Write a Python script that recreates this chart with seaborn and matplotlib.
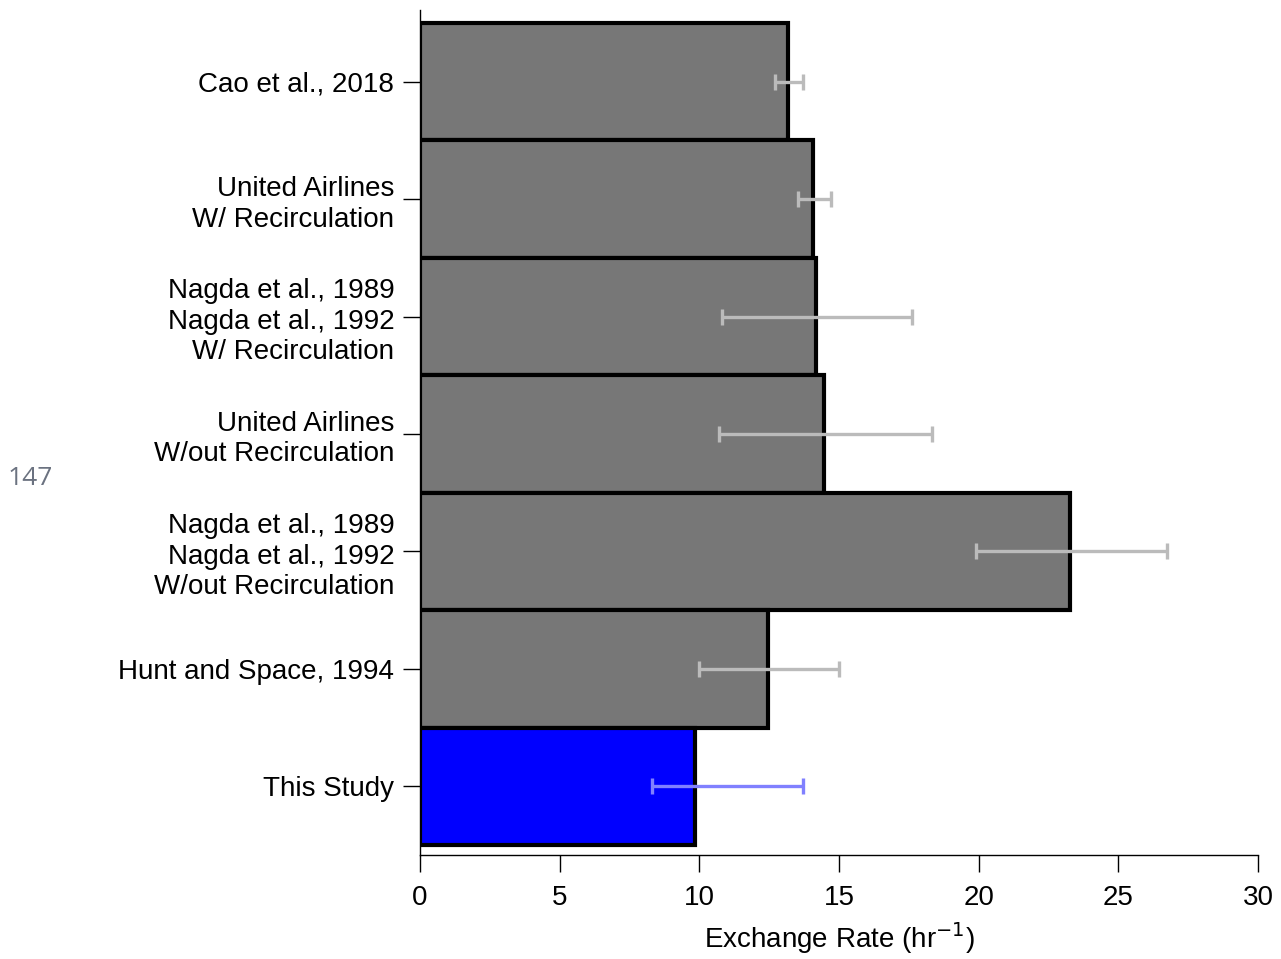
import matplotlib
matplotlib.use("Agg")
import matplotlib.pyplot as plt
import seaborn as sns
import pandas as pd

labels = [
    "Cao et al., 2018",
    "United Airlines\nW/ Recirculation",
    "Nagda et al., 1989\nNagda et al., 1992\nW/ Recirculation",
    "United Airlines\nW/out Recirculation",
    "Nagda et al., 1989\nNagda et al., 1992\nW/out Recirculation",
    "Hunt and Space, 1994",
    "This Study",
]
values = [13.18, 14.07, 14.18, 14.46, 23.27, 12.46, 9.85]
err_low = [12.7, 13.53, 10.81, 10.7, 19.9, 9.99, 8.3]
err_high = [13.7, 14.72, 17.61, 18.33, 26.75, 15.0, 13.71]
bar_colors = ["#777777"] * 6 + ["#0000ff"]
err_colors = ["#bbbbbb"] * 6 + ["#8080ff"]

sns.set_style("white")
plt.rcParams["font.family"] = ["Liberation Sans", "DejaVu Sans"]
plt.rcParams["text.color"] = "black"
plt.rcParams["axes.labelcolor"] = "black"
plt.rcParams["xtick.color"] = "black"
plt.rcParams["ytick.color"] = "black"

fig = plt.figure(figsize=(12.81, 9.59), dpi=100)
ax = fig.add_axes([420 / 1281, 1 - 855 / 959, (1258 - 420) / 1281, 845 / 959])

df = pd.DataFrame({"label": labels, "value": values})
sns.barplot(data=df, x="value", y="label", hue="label", palette=bar_colors,
            orient="h", width=1.0, edgecolor="black", linewidth=3,
            legend=False, ax=ax, saturation=1)

for i, (lo, hi, c) in enumerate(zip(err_low, err_high, err_colors)):
    center = (lo + hi) / 2
    ax.errorbar([center], [i], xerr=[[center - lo], [hi - center]], fmt="none",
                ecolor=c, elinewidth=2.4, capsize=6, capthick=2.4, zorder=5)

ax.set_xlim(0, 30)
ax.set_ylim(6.585, -0.611)
ax.set_xticks([0, 5, 10, 15, 20, 25, 30])
ax.set_ylabel("")
ax.set_xlabel("Exchange Rate (hr$^{-1}$)", fontsize=20, labelpad=7)
ax.tick_params(axis="both", which="major", labelsize=20, direction="out",
               length=12.5, width=1, left=True, bottom=True)
ax.tick_params(axis="x", pad=9)
ax.tick_params(axis="y", pad=6)
for s in ["top", "right"]:
    ax.spines[s].set_visible(False)
for s in ["left", "bottom"]:
    ax.spines[s].set_color("black")
    ax.spines[s].set_linewidth(1)
for t in ax.get_yticklabels():
    t.set_linespacing(1.22)

fig.text(30 / 1281, 1 - 478 / 959, "147", fontsize=19, color="#6b7280",
         family=["Open Sans", "DejaVu Sans"], ha="center", va="center")

fig.savefig("out.png", dpi=100)
